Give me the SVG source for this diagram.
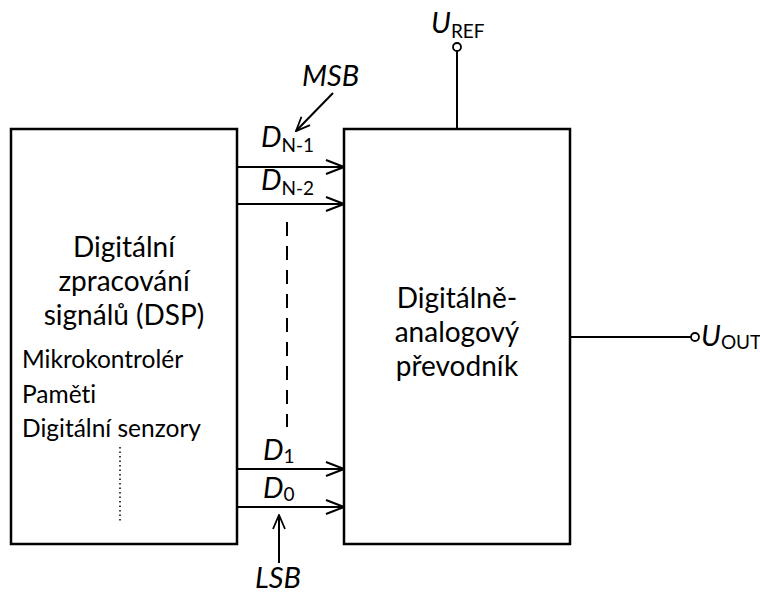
<svg xmlns="http://www.w3.org/2000/svg" width="760" height="595" viewBox="0 0 760 595">
<style>
.box{fill:#fff;stroke:#000;stroke-width:2.5}
.w{fill:none;stroke:#000;stroke-width:2}
.t{font-family:Lato,"Open Sans",sans-serif;fill:#000;font-variant-ligatures:none;font-feature-settings:"liga" 0,"clig" 0,"dlig" 0}
.big{font-size:28px}
.sm{font-size:24.5px}
.lab{font-size:29px;font-style:italic}
.sub{font-size:19px;font-style:normal}
</style>
<defs>
<marker id="ah" viewBox="0 0 20 16" refX="19" refY="8" markerWidth="20" markerHeight="16" markerUnits="userSpaceOnUse" orient="auto">
<path d="M1,1 L19,8 L1,15" fill="none" stroke="#000" stroke-width="2"/>
</marker>
<marker id="ah2" viewBox="0 0 16 14" refX="15" refY="7" markerWidth="16" markerHeight="14" markerUnits="userSpaceOnUse" orient="auto">
<path d="M1,1 L15,7 L1,13" fill="none" stroke="#000" stroke-width="1.8"/>
</marker>
</defs>
<g id="dsp">
<rect class="box" x="11" y="129" width="226" height="415"/>
<text class="t big" x="124" y="257" text-anchor="middle">Digitální</text>
<text class="t big" x="124" y="291" text-anchor="middle">zpracování</text>
<text class="t big" x="124" y="325" text-anchor="middle">signálů (DSP)</text>
<text class="t sm" x="22" y="368">Mikrokontrolér</text>
<text class="t sm" x="22" y="403">Paměti</text>
<text class="t sm" x="22" y="437">Digitální senzory</text>
<line x1="120" y1="447" x2="120" y2="523" stroke="#000" stroke-width="1.5" stroke-dasharray="1.5,3"/>
</g>
<g id="dac">
<rect class="box" x="344" y="129" width="226" height="415"/>
<text class="t big" x="457" y="308" text-anchor="middle">Digitálně-</text>
<text class="t big" x="457" y="342" text-anchor="middle">analogový</text>
<text class="t big" x="457" y="376" text-anchor="middle">převodník</text>
</g>
<g id="uref">
<circle cx="457" cy="47" r="4" fill="#fff" stroke="#000" stroke-width="1.8"/>
<text class="t lab" x="431" y="33">U<tspan class="sub" dy="5">REF</tspan></text>
</g>
<g id="uout">
<circle cx="695" cy="337" r="4" fill="#fff" stroke="#000" stroke-width="1.8"/>
<text class="t lab" x="701" y="346">U<tspan class="sub" dy="3" font-size="18">OUT</tspan></text>
</g>
<g id="connectors">
<line class="w" x1="457" y1="51" x2="457" y2="129"/>
<line class="w" x1="570" y1="337" x2="691" y2="337"/>
<line class="w" x1="237" y1="167" x2="344" y2="167" marker-end="url(#ah)"/>
<line class="w" x1="237" y1="204" x2="344" y2="204" marker-end="url(#ah)"/>
<line class="w" x1="237" y1="469" x2="344" y2="469" marker-end="url(#ah)"/>
<line class="w" x1="237" y1="507" x2="344" y2="507" marker-end="url(#ah)"/>
<line class="w" x1="287" y1="222" x2="287" y2="427" stroke-dasharray="14,10"/>
<line class="w" x1="333" y1="93" x2="296" y2="131" stroke-width="1.8" marker-end="url(#ah2)"/>
<line class="w" x1="279" y1="563" x2="279" y2="515" stroke-width="1.8" marker-end="url(#ah2)"/>
</g>
<g id="labels">
<text class="t lab" x="302" y="86">MSB</text>
<text class="t lab" x="261" y="147">D<tspan class="sub" dy="5">N-1</tspan></text>
<text class="t lab" x="261" y="190">D<tspan class="sub" dy="5">N-2</tspan></text>
<text class="t lab" x="263" y="460">D<tspan class="sub" dy="3">1</tspan></text>
<text class="t lab" x="263" y="498">D<tspan class="sub" dy="3">0</tspan></text>
<text class="t lab" x="255" y="588">LSB</text>
</g>
</svg>
